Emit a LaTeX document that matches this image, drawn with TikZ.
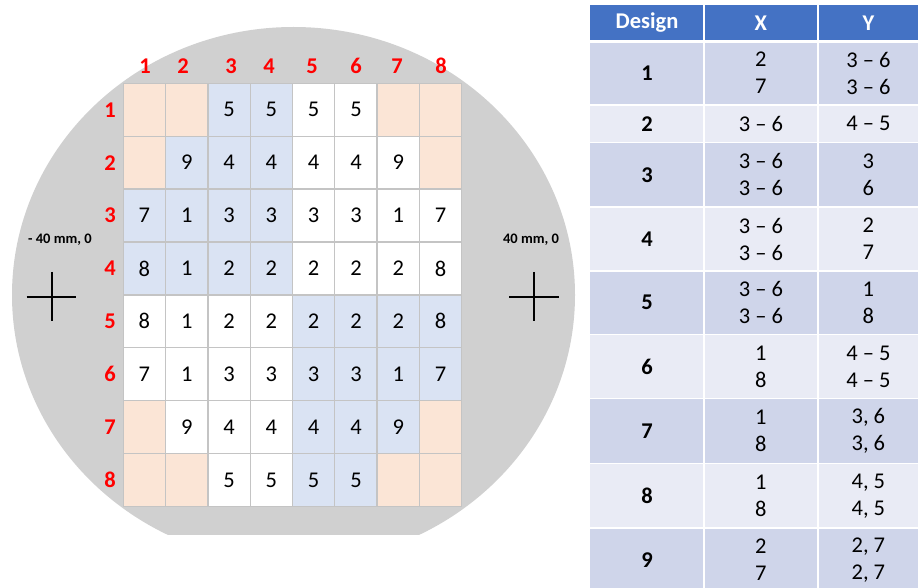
\documentclass[tikz,border=0pt]{standalone}
\usepackage{fontspec}
\setmainfont{Carlito}
\definecolor{wafer}{HTML}{D0D0D0}
\definecolor{cellP}{HTML}{FBE5D6}
\definecolor{cellB}{HTML}{DAE3F3}
\definecolor{cellW}{HTML}{FFFFFF}
\definecolor{gridline}{HTML}{C4C4C4}
\definecolor{hdr}{HTML}{4472C4}
\definecolor{rowA}{HTML}{CFD5EA}
\definecolor{rowB}{HTML}{E9EBF5}
\begin{document}
\begin{tikzpicture}[x=1pt,y=-1pt,
  cell/.style={minimum width=42.3pt, minimum height=52.9pt,
    inner sep=0pt, outer sep=0pt, font=\fontsize{22.5}{26}\selectfont, text=black},
  gline/.style={draw=gridline, line width=1.3pt},
  lab/.style={text=red, font=\bfseries\fontsize{22.5}{26}\selectfont, inner sep=0pt},
  mm/.style={font=\bfseries\fontsize{14.5}{17}\selectfont, inner sep=0pt},
  tcell/.style={draw=white, line width=1.7pt, inner sep=0pt, outer sep=0pt, align=center,
    font=\fontsize{22.5}{27}\selectfont},
  hcell/.style={tcell, fill=hdr, text=white, font=\bfseries\fontsize{22.5}{27}\selectfont},
  cross/.style={line width=2pt, black}]
\useasboundingbox (0,0) rectangle (919,588);
% wafer
\begin{scope}
  \clip (0,0) rectangle (919,534);
  \fill[wafer] (293.5,295) ellipse [x radius=281.5pt, y radius=268pt];
\end{scope}
% grid cells
\foreach \r/\lst in {
  1/{P/0,P/0,B/5,B/5,W/5,W/5,P/0,P/0},
  2/{P/0,B/9,B/4,B/4,W/4,W/4,W/9,P/0},
  3/{B/7,B/1,B/3,B/3,W/3,W/3,W/1,W/7},
  4/{B/8,B/1,B/2,B/2,W/2,W/2,W/2,W/8},
  5/{W/8,W/1,W/2,W/2,B/2,B/2,B/2,B/8},
  6/{W/7,W/1,W/3,W/3,B/3,B/3,B/1,B/7},
  7/{P/0,W/9,W/4,W/4,B/4,B/4,B/9,P/0},
  8/{P/0,P/0,W/5,W/5,B/5,B/5,P/0,P/0}}{
  \foreach \f/\t [count=\c] in \lst {
    \node[cell, fill=cell\f] (g-\r-\c) at ({123.3+(\c-0.5)*42.3},{83.3+(\r-0.5)*52.9})
      {\ifnum\t=0\else\t\fi};
  }
}
% grid lines
\foreach \c in {1,...,8}
  \draw[gline] (g-1-\c.north west) -- (g-8-\c.south west);
\draw[gline] (g-1-8.north east) -- (g-8-8.south east);
\foreach \r in {1,...,8}
  \draw[gline] (g-\r-1.north west) -- (g-\r-8.north east);
\draw[gline] (g-8-1.south west) -- (g-8-8.south east);
% column labels
\foreach \x [count=\c] in {145,183,231,269,312,356,397,441}
  \node[lab] (col-\c) at (\x,66) {\c};
% row labels
\foreach \r in {1,...,8}
  \node[lab] (row-\r) at (110,{83.3+(\r-0.5)*52.9}) {\r};
% crosses and labels
\node[mm] (lblL) at (60,239.5) {- 40 mm, 0};
\node[mm] (lblR) at (531,239.5) {40 mm, 0};
\draw[cross] (26.7,296.7) -- (76.3,296.7) (51.5,272) -- (51.5,321);
\draw[cross] (509.3,296.7) -- (558.5,296.7) (534,272) -- (534,321);
% table header
\node[hcell, minimum width=114.8pt, minimum height=37.5pt] (h-1) at (647,22.8) {Design};
\node[hcell, minimum width=113.7pt, minimum height=37.5pt] (h-2) at (760.85,22.8) {X};
\node[hcell, minimum width=101.3pt, minimum height=37.5pt] (h-3) at (868.35,22.8) {Y};
% table rows
\foreach \i/\ya/\yb/\cl/\xx/\yy in {
  1/41/105.2/rowA/{2\\7}/{3 – 6\\3 – 6},
  2/105.2/142.5/rowB/{3 – 6}/{4 – 5},
  3/142.5/207/rowA/{3 – 6\\3 – 6}/{3\\6},
  4/207/271/rowB/{3 – 6\\3 – 6}/{2\\7},
  5/271/334.5/rowA/{3 – 6\\3 – 6}/{1\\8},
  6/334.5/398.5/rowB/{1\\8}/{4 – 5\\4 – 5},
  7/398.5/463.5/rowA/{1\\8}/{3, 6\\3, 6},
  8/463.5/528/rowB/{1\\8}/{4, 5\\4, 5},
  9/528/592/rowA/{2\\7}/{2, 7\\2, 7}}{
  \pgfmathsetmacro{\hh}{\yb-\ya}
  \pgfmathsetmacro{\ym}{(\ya+\yb)/2}
  \node[tcell, fill=\cl, minimum width=114.8pt, minimum height=\hh pt, font=\bfseries\fontsize{22.5}{27}\selectfont]
    (d-\i) at (647,\ym) {\i};
  \node[tcell, fill=\cl, minimum width=113.7pt, minimum height=\hh pt] (x-\i) at (760.85,\ym) {\xx};
  \node[tcell, fill=\cl, minimum width=101.3pt, minimum height=\hh pt] (y-\i) at (868.35,\ym) {\yy};
}
\draw[white, line width=3.4pt] (h-1.south west) -- (h-3.south east);
\end{tikzpicture}
\end{document}
